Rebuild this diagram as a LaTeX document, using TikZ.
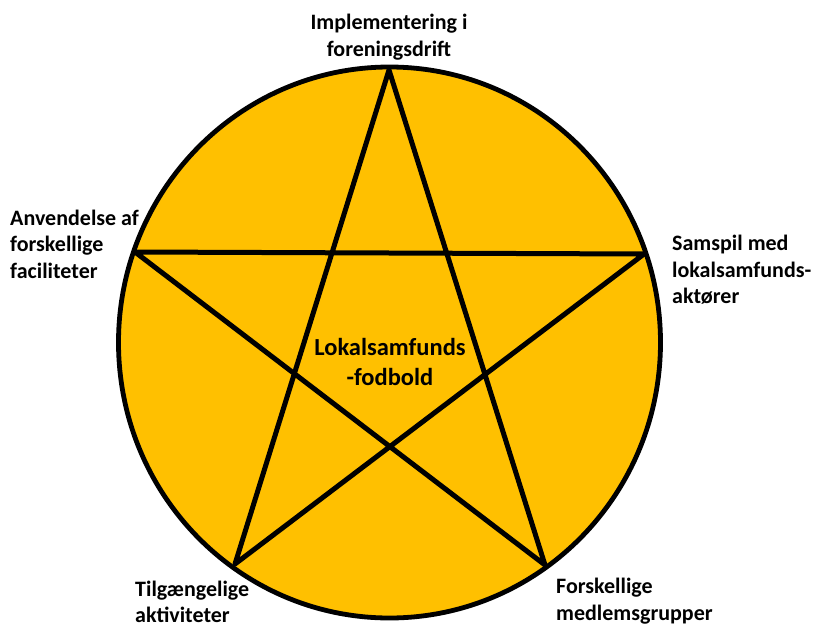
\documentclass[tikz,border=0pt]{standalone}
\usepackage{fontspec}
\setmainfont{Carlito}
\usepackage{xcolor}
\usepackage{tikz}
\usetikzlibrary{positioning,shapes.geometric}

\definecolor{stargold}{HTML}{FFC000}

\tikzset{
  label text/.style = {font=\bfseries\fontsize{22}{26.5}\selectfont, inner sep=0pt}
}

\begin{document}
\begin{tikzpicture}[x = 1pt, y = -1pt]
  \useasboundingbox (0, 0) rectangle (815, 624);

  % the disc
  \node[draw, ellipse, fill=stargold, line width=4.8pt, minimum width=542pt, minimum height=551pt, inner sep=0pt] (disc) at (389.5, 342.5) {};

  % points of the star
  \coordinate (top) at (389, 70);
  \coordinate (left) at (135, 252);
  \coordinate (right) at (644, 254);
  \coordinate (botleft) at (235, 564);
  \coordinate (botright) at (545, 565);

  \draw[line width=5pt, line join=round] (top) -- (botleft) -- (right) -- (left) -- (botright) -- cycle;

  \node[label text, align=center, font=\bfseries\fontsize{24.5}{29.5}\selectfont] (centre) at (390, 362){
    Lokalsamfunds\\-fodbold
  };

  \node[label text, align=center] (impl) at (389, 37){
    Implementering i\\foreningsdrift
  };

  \node[label text, align=left, anchor=west] (anv) at (10, 244){
    Anvendelse af\\forskellige\\faciliteter
  };

  \node[label text, align=left, anchor=west] (samspil) at (672, 270){
    Samspil med\\lokalsamfunds-\\aktører
  };

  \node[label text, align=left, anchor=west] (tilg) at (135, 602){
    Tilgængelige\\aktiviteter
  };

  \node[label text, align=left, anchor=west] (forsk) at (556, 601){
    Forskellige\\medlemsgrupper
  };
\end{tikzpicture}
\end{document}
